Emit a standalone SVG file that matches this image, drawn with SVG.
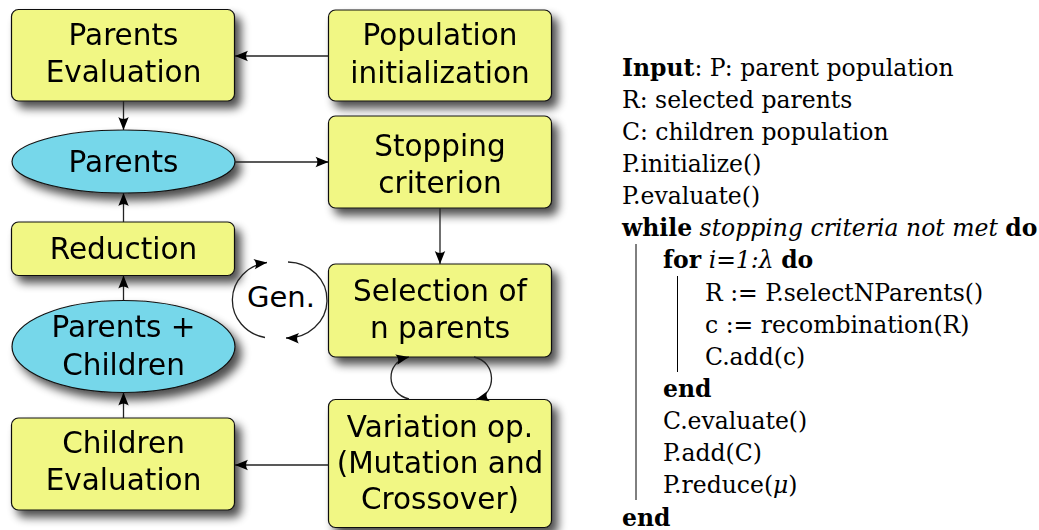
<svg xmlns="http://www.w3.org/2000/svg" width="1039" height="530" viewBox="0 0 1039 530">
  <style>
    .box { fill: #f1f784; stroke: #111; stroke-width: 1.2; }
    .pop { fill: #76d7ea; stroke: #111; stroke-width: 1.2; }
    .lbl { font-family: "DejaVu Sans", sans-serif; font-size: 29.5px; fill: #000; text-anchor: middle; }
    .edge { fill: none; stroke: #222; stroke-width: 1.3; }
    .algo { font-family: "DejaVu Serif", serif; font-size: 23.5px; fill: #000; }
    .kw { font-weight: bold; }
    .it { font-style: italic; }
    .bar { stroke: #000; stroke-width: 1; }
  </style>
  <defs>
    <filter id="shadow" x="-10%" y="-15%" width="135%" height="150%">
      <feGaussianBlur in="SourceAlpha" stdDeviation="5"/>
      <feOffset dx="6" dy="7" result="blur"/>
      <feComponentTransfer><feFuncA type="linear" slope="0.7"/></feComponentTransfer>
      <feMerge><feMergeNode/><feMergeNode in="SourceGraphic"/></feMerge>
    </filter>
    <marker id="arrow" markerUnits="userSpaceOnUse" markerWidth="16" markerHeight="12" refX="14" refY="6" orient="auto" overflow="visible">
      <path d="M14,6 L1,0.8 C3.5,4 3.5,8 1,11.2 Z" fill="#000"/>
    </marker>
  </defs>

  <rect width="1039" height="530" fill="#fff"/>

  <!-- flowchart nodes -->
  <g id="parents-evaluation" filter="url(#shadow)">
    <rect class="box" x="11.5" y="9.5" width="223" height="91.5" rx="7"/>
    <text class="lbl" x="123.5" y="45">Parents</text>
    <text class="lbl" x="123.5" y="82">Evaluation</text>
  </g>
  <g id="population-initialization" filter="url(#shadow)">
    <rect class="box" x="328.5" y="10" width="223" height="91" rx="7"/>
    <text class="lbl" x="440" y="45">Population</text>
    <text class="lbl" x="440" y="83">initialization</text>
  </g>
  <g id="parents" filter="url(#shadow)">
    <ellipse class="pop" cx="123.5" cy="161.5" rx="111.5" ry="31.5"/>
    <text class="lbl" x="123.5" y="172">Parents</text>
  </g>
  <g id="stopping-criterion" filter="url(#shadow)">
    <rect class="box" x="328.5" y="116" width="223" height="92" rx="7"/>
    <text class="lbl" x="440" y="156">Stopping</text>
    <text class="lbl" x="440" y="193">criterion</text>
  </g>
  <g id="reduction" filter="url(#shadow)">
    <rect class="box" x="11.5" y="222" width="223" height="53.5" rx="7"/>
    <text class="lbl" x="123.5" y="259">Reduction</text>
  </g>
  <g id="parents-children" filter="url(#shadow)">
    <ellipse class="pop" cx="123.5" cy="346.5" rx="111.5" ry="46"/>
    <text class="lbl" x="123.5" y="337">Parents +</text>
    <text class="lbl" x="123.5" y="375">Children</text>
  </g>
  <g id="selection" filter="url(#shadow)">
    <rect class="box" x="328.5" y="264" width="223" height="93" rx="7"/>
    <text class="lbl" x="440" y="301">Selection of</text>
    <text class="lbl" x="440" y="338">n parents</text>
  </g>
  <g id="variation" filter="url(#shadow)">
    <rect class="box" x="328.5" y="399.5" width="223" height="128" rx="7"/>
    <text class="lbl" x="440" y="437">Variation op.</text>
    <text class="lbl" x="440" y="473">(Mutation and</text>
    <text class="lbl" x="440" y="509">Crossover)</text>
  </g>
  <g id="children-evaluation" filter="url(#shadow)">
    <rect class="box" x="11.5" y="418" width="223" height="92" rx="7"/>
    <text class="lbl" x="123.5" y="453">Children</text>
    <text class="lbl" x="123.5" y="490">Evaluation</text>
  </g>
  <g id="generation">
    <text class="lbl" x="281" y="307" style="font-size:29px">Gen.</text>
  </g>

  <!-- connectors -->
  <g id="connectors">
    <path class="edge" marker-end="url(#arrow)" d="M328.5,56 H235"/>
    <path class="edge" marker-end="url(#arrow)" d="M123.5,101 V130"/>
    <path class="edge" marker-end="url(#arrow)" d="M235,162 H328.5"/>
    <path class="edge" marker-end="url(#arrow)" d="M440,208 V264"/>
    <path class="edge" marker-end="url(#arrow)" d="M123.5,222 V193"/>
    <path class="edge" marker-end="url(#arrow)" d="M123.5,300.5 V275.5"/>
    <path class="edge" marker-end="url(#arrow)" d="M123.5,418 V392.5"/>
    <path class="edge" marker-end="url(#arrow)" d="M328.5,465 H235"/>
    <!-- selection / variation loop -->
    <path class="edge" marker-end="url(#arrow)" d="M409,399 C386,394 384,362 409,357"/>
    <path class="edge" marker-end="url(#arrow)" d="M474,357 C497,362 497,394 476,399.5"/>
    <!-- generation cycle -->
    <path class="edge" marker-end="url(#arrow)" d="M265,337.5 A40 38 0 0 1 267,262.5"/>
    <path class="edge" marker-end="url(#arrow)" d="M288,262 A40 38 0 0 1 286,338"/>
  </g>

  <!-- algorithm listing -->
  <g id="algorithm" class="algo">
    <text x="622" y="75.5"><tspan class="kw">Input</tspan>: P: parent population</text>
    <text x="622" y="107.6">R: selected parents</text>
    <text x="622" y="139.8">C: children population</text>
    <text x="622" y="171.9">P.initialize()</text>
    <text x="622" y="204.1">P.evaluate()</text>
    <text x="622" y="236.2"><tspan class="kw">while</tspan> <tspan class="it">stopping criteria not met</tspan> <tspan class="kw">do</tspan></text>
    <text x="663" y="268.4"><tspan class="kw">for</tspan> <tspan class="it">i=1:λ</tspan> <tspan class="kw">do</tspan></text>
    <text x="705" y="300.5">R := P.selectNParents()</text>
    <text x="705" y="332.7">c := recombination(R)</text>
    <text x="705" y="364.8">C.add(c)</text>
    <text x="663" y="397" class="kw">end</text>
    <text x="663" y="429.1">C.evaluate()</text>
    <text x="663" y="461.3">P.add(C)</text>
    <text x="663" y="493.4">P.reduce(<tspan class="it">μ</tspan>)</text>
    <text x="622" y="525.5" class="kw">end</text>
    <line class="bar" x1="636" y1="244" x2="636" y2="500"/>
    <line class="bar" x1="677.5" y1="276" x2="677.5" y2="372"/>
  </g>
</svg>
